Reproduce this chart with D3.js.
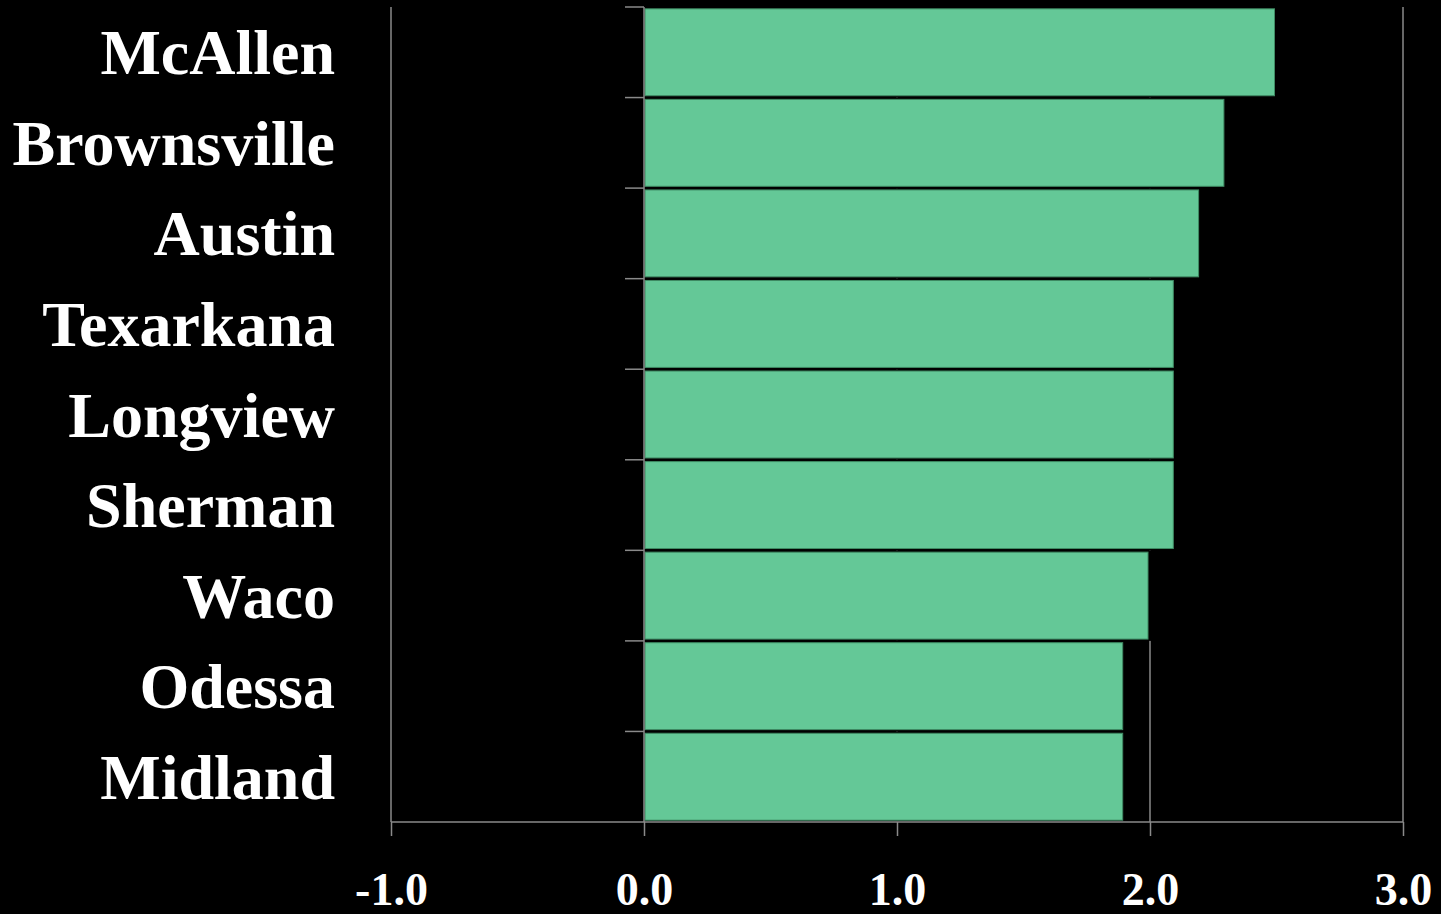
<!DOCTYPE html>
<html>
<head>
<meta charset="utf-8">
<script src="https://cdn.jsdelivr.net/npm/d3@7"></script>
<style>
  html, body { margin: 0; padding: 0; background: #000; }
  #chart { width: 1441px; height: 914px; overflow: hidden; }
</style>
</head>
<body>
<div id="chart"></div>
<script>
  // Data
  const cities = ['McAllen', 'Brownsville', 'Austin', 'Texarkana', 'Longview', 'Sherman', 'Waco', 'Odessa', 'Midland']
  const values = [2.5, 2.3, 2.2, 2.1, 2.1, 2.1, 2.0, 1.9, 1.9]
  const xTicks = [-1, 0, 1, 2, 3]

  const dataset = cities.map((c, i) => ({ city: c, value: values[i] }))

  // Dimensions
  let dimensions = {
    width: 1441,
    height: 914,
    margin: { top: 7, bottom: 92, left: 391, right: 38 }
  }
  dimensions.containerWidth = dimensions.width - dimensions.margin.left - dimensions.margin.right
  dimensions.containerHeight = dimensions.height - dimensions.margin.top - dimensions.margin.bottom

  const svg = d3.select('#chart')
    .append('svg')
    .attr('width', dimensions.width)
    .attr('height', dimensions.height)
    .style('background', '#000')

  const container = svg.append('g')
    .attr('transform', `translate(${dimensions.margin.left}, ${dimensions.margin.top})`)

  // Scales
  const xScale = d3.scaleLinear()
    .domain([-1, 3])
    .range([0, dimensions.containerWidth])

  const yScale = d3.scaleBand()
    .domain(cities)
    .range([0, dimensions.containerHeight])
    .paddingInner(0.04)
    .paddingOuter(0.02)

  const grey = '#8a8a8a'

  // Gridlines (behind bars)
  container.append('g')
    .selectAll('line')
    .data(xTicks.filter(d => d !== 0))
    .join('line')
    .attr('x1', d => xScale(d))
    .attr('x2', d => xScale(d))
    .attr('y1', 0)
    .attr('y2', dimensions.containerHeight)
    .attr('stroke', grey)
    .attr('stroke-width', 1.5)

  // Black halo behind each bar row hides the gridlines in the gaps
  const step = yScale.step()
  container.append('g')
    .selectAll('rect')
    .data(dataset)
    .join('rect')
    .attr('x', xScale(0) + 1)
    .attr('y', d => yScale(d.city) - (step - yScale.bandwidth()) / 2)
    .attr('width', d => xScale(d.value) - xScale(0) + 1)
    .attr('height', step)
    .attr('fill', '#000')

  // Bars
  container.append('g')
    .selectAll('rect')
    .data(dataset)
    .join('rect')
    .attr('x', xScale(0) + 1)
    .attr('y', d => yScale(d.city))
    .attr('width', d => xScale(d.value) - xScale(0) - 3)
    .attr('height', yScale.bandwidth())
    .attr('fill', '#64c897')
    .attr('stroke', '#3f8a63')
    .attr('stroke-width', 1)

  // X axis
  const xAxis = d3.axisBottom(xScale)
    .tickValues(xTicks)
    .tickSize(14)
    .tickPadding(36)
    .tickFormat(d => d.toFixed(1))

  const xAxisGroup = container.append('g')
    .attr('transform', `translate(0, ${dimensions.containerHeight})`)
    .call(xAxis)

  xAxisGroup.select('.domain')
    .attr('stroke', grey)
    .attr('stroke-width', 1.5)
    .attr('d', `M0,0H${dimensions.containerWidth}`)

  xAxisGroup.selectAll('.tick line')
    .attr('stroke', grey)
    .attr('stroke-width', 1.5)

  xAxisGroup.selectAll('.tick text')
    .attr('fill', '#fff')
    .style('font-family', '"Liberation Serif", "Times New Roman", serif')
    .style('font-weight', 'bold')
    .style('font-size', '46px')

  // Y axis at zero
  const yAxis = d3.axisLeft(yScale)
    .tickSize(0)
    .tickFormat('')

  const yAxisGroup = container.append('g')
    .attr('transform', `translate(${xScale(0)}, 0)`)
    .call(yAxis)

  yAxisGroup.select('.domain')
    .attr('stroke', grey)
    .attr('stroke-width', 1.5)
    .attr('d', `M0,0V${dimensions.containerHeight}`)

  // Tick marks on band boundaries
  const boundaries = cities.map(c => yScale(c) - yScale.paddingInner() * step / 2)
  yAxisGroup.append('g')
    .selectAll('line')
    .data(boundaries)
    .join('line')
    .attr('x1', -19)
    .attr('x2', 0)
    .attr('y1', d => d)
    .attr('y2', d => d)
    .attr('stroke', grey)
    .attr('stroke-width', 1.5)

  // Category labels
  svg.append('g')
    .selectAll('text')
    .data(dataset)
    .join('text')
    .attr('x', 335)
    .attr('y', d => dimensions.margin.top + yScale(d.city) + yScale.bandwidth() / 2 + 22)
    .attr('text-anchor', 'end')
    .attr('fill', '#fff')
    .style('font-family', '"Liberation Serif", "Times New Roman", serif')
    .style('font-weight', 'bold')
    .style('font-size', '64px')
    .text(d => d.city)
</script>
</body>
</html>
